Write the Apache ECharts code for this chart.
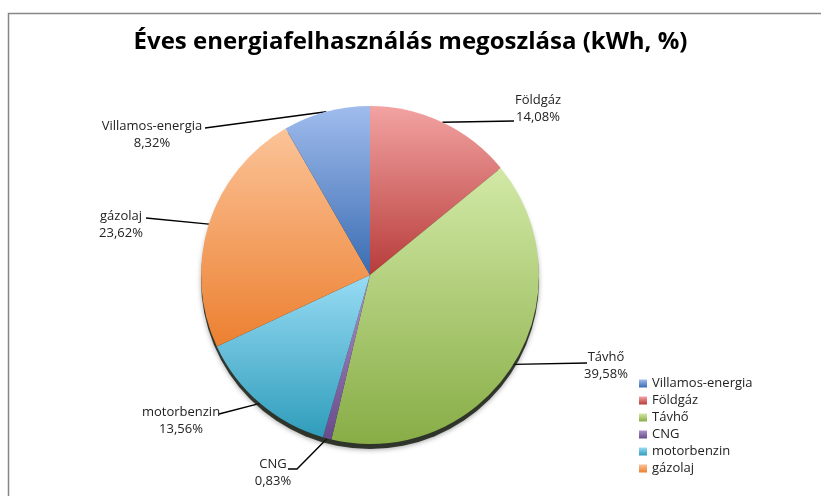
<!DOCTYPE html>
<html>
<head>
<meta charset="utf-8">
<script src="https://cdn.jsdelivr.net/npm/echarts@6/dist/echarts.min.js"></script>
<style>
  html, body { margin: 0; padding: 0; background: #fff; }
  #chart { width: 821px; height: 496px; }
</style>
</head>
<body>
<div id="chart"></div>
<script>
// szeletek sorrendje a rajzon (12 órától, óramutató irányában)
const categories = ['Földgáz', 'Távhő', 'CNG', 'motorbenzin', 'gázolaj', 'Villamos-energia'];
const shares = [14.08, 39.58, 0.83, 13.56, 23.62, 8.32];
// jelmagyarázat sorrendje
const legendOrder = ['Villamos-energia', 'Földgáz', 'Távhő', 'CNG', 'motorbenzin', 'gázolaj'];

// világos -> sötét színátmenet szeletenként
const sliceColors = {
  'Villamos-energia': ['#a0bced', '#3a6cb2'],
  'Földgáz': ['#f2a3a2', '#b73c3a'],
  'Távhő': ['#d2e9a6', '#88ad46'],
  'CNG': ['#ab93cb', '#684b8b'],
  'motorbenzin': ['#98dbf4', '#2f9dbb'],
  'gázolaj': ['#fbc398', '#ec8030']
};

// címkék helye (szöveg közepe + vezetővonal törés-/végpontjai) -- csak elrendezés
const labelSpots = {
  'Földgáz': { at: [538, 109], line: [[514, 121]] },
  'Távhő': { at: [606, 366], line: [[587, 363]] },
  'CNG': { at: [273, 473], line: [[297, 469], [288, 469]] },
  'motorbenzin': { at: [181, 421], line: [[219, 414]] },
  'gázolaj': { at: [121, 225], line: [[146, 218]] },
  'Villamos-energia': { at: [152, 135], line: [[205, 128]] }
};

const grad = (c) => new echarts.graphic.LinearGradient(0, 0, 0, 1, [
  { offset: 0, color: c[0] },
  { offset: 1, color: c[1] }
]);

const fmt = (v) => v.toFixed(2).replace('.', ',') + '%';

const CENTER = [370, 275];
const RADIUS = 169;

const chart = echarts.init(document.getElementById('chart'));

chart.setOption({
  animation: false,
  textStyle: { fontFamily: 'Open Sans' },
  title: {
    text: 'Éves energiafelhasználás megoszlása (kWh, %)',
    left: 'center',
    top: 25,
    textStyle: { fontFamily: 'Open Sans', fontSize: 24, fontWeight: 'bold', color: '#000' }
  },
  legend: {
    orient: 'vertical',
    left: 639,
    top: 377,
    padding: 0,
    data: legendOrder,
    itemWidth: 8,
    itemHeight: 8,
    itemGap: 4,
    icon: 'rect',
    textStyle: { fontSize: 13, color: '#222' }
  },
  graphic: [{
    type: 'polyline',
    shape: { points: [[8.5, 520], [8.5, 13.5], [830, 13.5]] },
    style: { stroke: '#868686', lineWidth: 1.5, fill: null }
  }],
  series: [
    {
      // árnyék a kör alatt
      type: 'pie',
      silent: true,
      center: [CENTER[0], CENTER[1] + 5],
      radius: RADIUS,
      label: { show: false },
      labelLine: { show: false },
      itemStyle: {
        color: 'rgba(25,30,20,0.85)',
        shadowColor: 'rgba(0,0,0,0.4)',
        shadowBlur: 5,
        shadowOffsetY: 1
      },
      emphasis: { disabled: true },
      data: [{ name: '_shadow', value: 1 }]
    },
    {
      type: 'pie',
      center: CENTER,
      radius: RADIUS,
      startAngle: 90,
      clockwise: true,
      avoidLabelOverlap: false,
      label: {
        show: true,
        position: 'outside',
        fontSize: 13,
        color: '#222',
        lineHeight: 17,
        align: 'center',
        formatter: (p) => p.name + '\n' + fmt(p.value)
      },
      labelLine: {
        show: true,
        length: 15,
        length2: 30,
        lineStyle: { color: '#000', width: 1.4 }
      },
      labelLayout: (params) => {
        const spot = labelSpots[categories[params.dataIndex]];
        const start = params.labelLinePoints ? params.labelLinePoints[0] : null;
        return {
          x: spot.at[0],
          y: spot.at[1],
          align: 'center',
          verticalAlign: 'middle',
          labelLinePoints: start ? [start].concat(spot.line) : undefined
        };
      },
      emphasis: { disabled: true },
      data: categories.map((name, i) => ({
        name: name,
        value: shares[i],
        itemStyle: { color: grad(sliceColors[name]) }
      }))
    }
  ]
});
</script>
</body>
</html>
